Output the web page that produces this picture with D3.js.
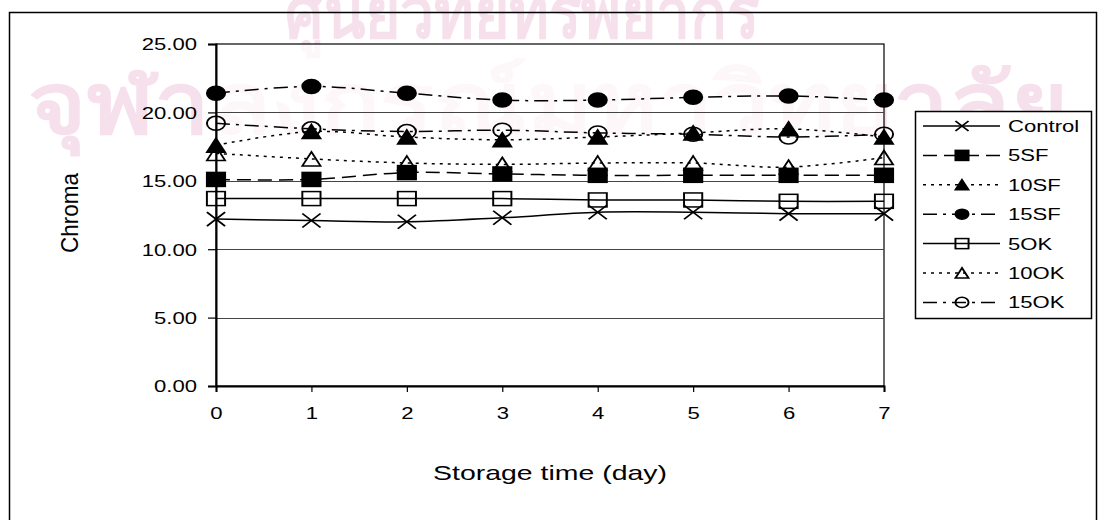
<!DOCTYPE html>
<html><head><meta charset="utf-8">
<script src="https://cdn.jsdelivr.net/npm/d3@7"></script>
<style>body{margin:0;background:#fff}svg{display:block;font-family:Arial,"Liberation Sans",sans-serif}</style>
</head><body><svg id="c" width="1099" height="520"></svg>
<script>
const days = [0,1,2,3,4,5,6,7];
const yTicks = [0,5,10,15,20,25];
const seriesNames = ["Control","5SF","10SF","15SF","5OK","10OK","15OK"];
const control = [12.2,12.1,12.0,12.3,12.7,12.7,12.6,12.6];
const sf5  = [15.1,15.1,15.6,15.5,15.4,15.4,15.4,15.4];
const sf10 = [17.6,18.6,18.2,18.0,18.2,18.5,18.8,18.2];
const sf15 = [21.4,21.9,21.4,20.9,20.9,21.1,21.2,20.9];
const ok5  = [13.7,13.7,13.7,13.7,13.6,13.6,13.5,13.5];
const ok10 = [17.0,16.6,16.3,16.2,16.3,16.3,16.0,16.7];
const ok15 = [19.2,18.8,18.6,18.7,18.5,18.4,18.2,18.4];
const watermark = ["ศูนย์วิทยทรัพยากร","จุฬาลงกรณ์มหาวิทยาลัย"];

const values = [control, sf5, sf10, sf15, ok5, ok10, ok15];
const styles = [
  {m:"x", fill:"none", dash:null},
  {m:"square", fill:"#000", dash:"14,7"},
  {m:"triangle", fill:"#000", dash:"3,5"},
  {m:"circle", fill:"#000", dash:"14,6,3,6"},
  {m:"square", fill:"none", dash:null},
  {m:"triangle", fill:"none", dash:"3,5"},
  {m:"circle", fill:"none", dash:"14,6,3,6"}
];
const SX = 1.3;
const svg = d3.select("#c");
svg.append("rect").attr("width",1099).attr("height",520).attr("fill","#fff");

// faint watermark behind the chart
svg.append("text").attr("x",285).attr("y",38)
  .attr("font-size",72).attr("font-weight","bold").attr("fill","#f6e0eb")
  .attr("textLength",475).attr("lengthAdjust","spacingAndGlyphs").text(watermark[0]);
svg.append("text").attr("x",28).attr("y",133)
  .attr("font-size",84).attr("font-weight","bold").attr("fill","#f6e0eb")
  .attr("textLength",1040).attr("lengthAdjust","spacingAndGlyphs").text(watermark[1]);

// outer frame
svg.append("rect").attr("x",9.5).attr("y",12.5).attr("width",1087).attr("height",530)
  .attr("fill","none").attr("stroke","#000").attr("stroke-width",1.5);

const x = d3.scaleLinear().domain([0,7]).range([216,884]);
const y = d3.scaleLinear().domain([0,25]).range([386,44]);

// plot area
svg.append("rect").attr("x",x(0)).attr("y",y(25)).attr("width",x(7)-x(0)).attr("height",y(0)-y(25))
  .attr("fill","#fff").attr("fill-opacity",0.75).attr("stroke","#000").attr("stroke-width",1.2);

// gridlines
svg.append("g").selectAll("line").data(yTicks.filter(d=>d>0&&d<25)).join("line")
  .attr("x1",x(0)).attr("x2",x(7)).attr("y1",d=>Math.round(y(d))+0.5).attr("y2",d=>Math.round(y(d))+0.5)
  .attr("stroke","#444").attr("stroke-width",1.2);

// y axis
const ya = svg.append("g").attr("transform",`translate(${x(0)},0)`)
  .call(d3.axisLeft(y).tickValues(yTicks).tickSize(8).tickFormat(d3.format(".2f")));
ya.select(".domain").attr("stroke","#000").attr("stroke-width",2);
ya.selectAll(".tick line").attr("stroke","#000").attr("stroke-width",1.2);
ya.selectAll(".tick text").attr("font-size",17).attr("fill","#000").attr("x",0).attr("dy","0.35em")
  .attr("transform",`translate(-19,0) scale(${SX},1)`).attr("font-family","Arial, Liberation Sans, sans-serif");

// x axis
const xa = svg.append("g").attr("transform",`translate(0,${y(0)})`)
  .call(d3.axisBottom(x).tickValues(days).tickSize(6).tickFormat(d3.format("d")));
xa.select(".domain").attr("stroke","#000").attr("stroke-width",2);
xa.selectAll(".tick line").attr("stroke","#000").attr("stroke-width",1.2);
xa.selectAll(".tick text").attr("font-size",17).attr("fill","#000").attr("y",0).attr("dy","0.35em")
  .attr("transform",`translate(0,27) scale(${SX},1)`).attr("font-family","Arial, Liberation Sans, sans-serif");

// axis titles
svg.append("text").attr("transform",`translate(550,473) scale(${SX},1)`).attr("text-anchor","middle")
  .attr("dy","0.35em").attr("font-size",20).attr("textLength",180).attr("lengthAdjust","spacingAndGlyphs")
  .text("Storage time (day)");
svg.append("text").attr("transform",`translate(70,213) scale(${SX},1) rotate(-90)`).attr("text-anchor","middle")
  .attr("dy","0.35em").attr("font-size",18).attr("textLength",80).attr("lengthAdjust","spacingAndGlyphs")
  .text("Chroma");

function marker(g, type, fill, k){
  const s = 7*k;
  if(type==="x"){
    g.append("path").attr("d",`M${-s},${-s}L${s},${s}M${-s},${s}L${s},${-s}`)
      .attr("stroke","#000").attr("stroke-width",1.5).attr("fill","none");
  } else if(type==="square"){
    g.append("rect").attr("x",-s).attr("y",-s).attr("width",2*s).attr("height",2*s)
      .attr("fill",fill).attr("stroke","#000").attr("stroke-width",1.5);
  } else if(type==="triangle"){
    g.append("path").attr("d",`M0,${-s}L${s},${s}L${-s},${s}Z`)
      .attr("fill",fill).attr("stroke","#000").attr("stroke-width",1.5);
  } else {
    g.append("circle").attr("r",s).attr("fill",fill).attr("stroke","#000").attr("stroke-width",1.5);
  }
}

const line = d3.line().x((d,i)=>x(days[i])).y(d=>y(d)).curve(d3.curveCatmullRom.alpha(0.5));
values.forEach((vals,si)=>{
  const st = styles[si];
  svg.append("path").attr("d",line(vals)).attr("fill","none").attr("stroke","#000")
    .attr("stroke-width",1.5).attr("stroke-dasharray",st.dash);
});
values.forEach((vals,si)=>{
  const st = styles[si];
  vals.forEach((v,i)=>{
    const g = svg.append("g").attr("transform",`translate(${x(days[i])},${y(v)}) scale(${SX},1)`);
    marker(g, st.m, st.fill, 1);
  });
});

// legend
const lg = svg.append("g");
lg.append("rect").attr("x",915.5).attr("y",111.5).attr("width",176).attr("height",207)
  .attr("fill","#fff").attr("stroke","#000").attr("stroke-width",1.5);
seriesNames.forEach((name,i)=>{
  const ly = 126 + i*29.4;
  const st = styles[i];
  lg.append("line").attr("x1",923).attr("x2",1000).attr("y1",ly).attr("y2",ly)
    .attr("stroke","#000").attr("stroke-width",1.5).attr("stroke-dasharray",st.dash);
  const g = lg.append("g").attr("transform",`translate(962,${ly}) scale(${SX},1)`);
  marker(g, st.m, st.fill, 0.72);
  lg.append("text").attr("transform",`translate(1008,${ly}) scale(${SX},1)`).attr("dy","0.35em")
    .attr("font-size",17).text(name);
});
</script></body></html>
